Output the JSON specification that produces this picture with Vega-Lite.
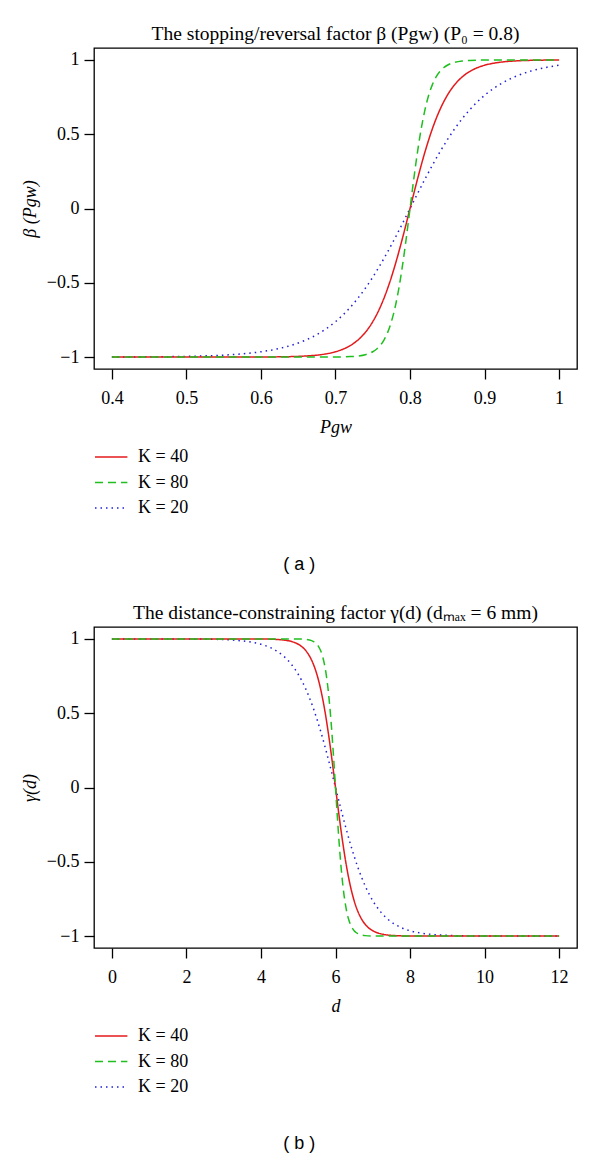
{
  "$schema": "https://vega.github.io/schema/vega-lite/v6.json",
  "background": "white",
  "padding": {"left": 20, "top": 22, "right": 5, "bottom": 2},
  "config": {
    "font": "Liberation Serif",
    "view": {"stroke": "black", "strokeWidth": 1.3},
    "axis": {"domain": false, "grid": false, "tickColor": "black", "tickSize": 10, "tickWidth": 1.3, "labelFont": "Liberation Serif", "labelFontSize": 18, "labelColor": "black", "labelPadding": 5, "titleFont": "Liberation Serif", "titleFontSize": 18, "titleFontWeight": "normal", "titleColor": "black"},
    "axisY": {"labelAngle": 0, "titlePadding": 7, "titleFontStyle": "italic"},
    "axisX": {"titleFontStyle": "italic", "titlePadding": 11, "labelPadding": 10},
    "title": {"font": "Liberation Serif", "fontSize": 19.5, "fontWeight": "normal", "color": "black", "offset": 4},
    "legend": {"orient": "bottom", "direction": "vertical", "title": null, "symbolType": "M-1,0H1.7", "symbolSize": 576, "symbolStrokeWidth": 1.5, "labelFont": "Liberation Serif", "labelFontSize": 18, "labelColor": "black", "rowPadding": 3.5, "offset": 8, "labelOffset": 18},
    "concat": {"spacing": 27}
  },
  "datasets": {
    "a": [
      {"P":0.4,"v":-0.9993,"K":"K = 20"},{"P":0.45,"v":-0.9982,"K":"K = 20"},{"P":0.5,"v":-0.9951,"K":"K = 20"},{"P":0.525,"v":-0.9918,"K":"K = 20"},{"P":0.55,"v":-0.9866,"K":"K = 20"},{"P":0.575,"v":-0.978,"K":"K = 20"},{"P":0.6,"v":-0.964,"K":"K = 20"},{"P":0.62,"v":-0.9468,"K":"K = 20"},{"P":0.64,"v":-0.9217,"K":"K = 20"},{"P":0.66,"v":-0.8854,"K":"K = 20"},{"P":0.68,"v":-0.8337,"K":"K = 20"},{"P":0.7,"v":-0.7616,"K":"K = 20"},{"P":0.72,"v":-0.664,"K":"K = 20"},{"P":0.74,"v":-0.537,"K":"K = 20"},{"P":0.76,"v":-0.3799,"K":"K = 20"},{"P":0.78,"v":-0.1974,"K":"K = 20"},{"P":0.8,"v":0,"K":"K = 20"},{"P":0.82,"v":0.1974,"K":"K = 20"},{"P":0.84,"v":0.3799,"K":"K = 20"},{"P":0.86,"v":0.537,"K":"K = 20"},{"P":0.88,"v":0.664,"K":"K = 20"},{"P":0.9,"v":0.7616,"K":"K = 20"},{"P":0.92,"v":0.8337,"K":"K = 20"},{"P":0.94,"v":0.8854,"K":"K = 20"},{"P":0.96,"v":0.9217,"K":"K = 20"},{"P":0.98,"v":0.9468,"K":"K = 20"},{"P":1.0,"v":0.964,"K":"K = 20"},
      {"P":0.4,"v":-1,"K":"K = 40"},{"P":0.5,"v":-1,"K":"K = 40"},{"P":0.55,"v":-0.9999,"K":"K = 40"},{"P":0.6,"v":-0.9993,"K":"K = 40"},{"P":0.62,"v":-0.9985,"K":"K = 40"},{"P":0.64,"v":-0.9967,"K":"K = 40"},{"P":0.66,"v":-0.9926,"K":"K = 40"},{"P":0.68,"v":-0.9837,"K":"K = 40"},{"P":0.69,"v":-0.9757,"K":"K = 40"},{"P":0.7,"v":-0.964,"K":"K = 40"},{"P":0.71,"v":-0.9468,"K":"K = 40"},{"P":0.72,"v":-0.9217,"K":"K = 40"},{"P":0.73,"v":-0.8854,"K":"K = 40"},{"P":0.74,"v":-0.8337,"K":"K = 40"},{"P":0.75,"v":-0.7616,"K":"K = 40"},{"P":0.76,"v":-0.664,"K":"K = 40"},{"P":0.77,"v":-0.537,"K":"K = 40"},{"P":0.78,"v":-0.3799,"K":"K = 40"},{"P":0.79,"v":-0.1974,"K":"K = 40"},{"P":0.8,"v":0,"K":"K = 40"},{"P":0.81,"v":0.1974,"K":"K = 40"},{"P":0.82,"v":0.3799,"K":"K = 40"},{"P":0.83,"v":0.537,"K":"K = 40"},{"P":0.84,"v":0.664,"K":"K = 40"},{"P":0.85,"v":0.7616,"K":"K = 40"},{"P":0.86,"v":0.8337,"K":"K = 40"},{"P":0.87,"v":0.8854,"K":"K = 40"},{"P":0.88,"v":0.9217,"K":"K = 40"},{"P":0.89,"v":0.9468,"K":"K = 40"},{"P":0.9,"v":0.964,"K":"K = 40"},{"P":0.91,"v":0.9757,"K":"K = 40"},{"P":0.92,"v":0.9837,"K":"K = 40"},{"P":0.94,"v":0.9926,"K":"K = 40"},{"P":0.96,"v":0.9967,"K":"K = 40"},{"P":0.98,"v":0.9985,"K":"K = 40"},{"P":1.0,"v":0.9993,"K":"K = 40"},
      {"P":0.4,"v":-1,"K":"K = 80"},{"P":0.6,"v":-1,"K":"K = 80"},{"P":0.7,"v":-0.9993,"K":"K = 80"},{"P":0.72,"v":-0.9967,"K":"K = 80"},{"P":0.73,"v":-0.9926,"K":"K = 80"},{"P":0.74,"v":-0.9837,"K":"K = 80"},{"P":0.745,"v":-0.9757,"K":"K = 80"},{"P":0.75,"v":-0.964,"K":"K = 80"},{"P":0.755,"v":-0.9468,"K":"K = 80"},{"P":0.76,"v":-0.9217,"K":"K = 80"},{"P":0.765,"v":-0.8854,"K":"K = 80"},{"P":0.77,"v":-0.8337,"K":"K = 80"},{"P":0.775,"v":-0.7616,"K":"K = 80"},{"P":0.78,"v":-0.664,"K":"K = 80"},{"P":0.785,"v":-0.537,"K":"K = 80"},{"P":0.79,"v":-0.3799,"K":"K = 80"},{"P":0.795,"v":-0.1974,"K":"K = 80"},{"P":0.8,"v":0,"K":"K = 80"},{"P":0.805,"v":0.1974,"K":"K = 80"},{"P":0.81,"v":0.3799,"K":"K = 80"},{"P":0.815,"v":0.537,"K":"K = 80"},{"P":0.82,"v":0.664,"K":"K = 80"},{"P":0.825,"v":0.7616,"K":"K = 80"},{"P":0.83,"v":0.8337,"K":"K = 80"},{"P":0.835,"v":0.8854,"K":"K = 80"},{"P":0.84,"v":0.9217,"K":"K = 80"},{"P":0.845,"v":0.9468,"K":"K = 80"},{"P":0.85,"v":0.964,"K":"K = 80"},{"P":0.855,"v":0.9757,"K":"K = 80"},{"P":0.86,"v":0.9837,"K":"K = 80"},{"P":0.87,"v":0.9926,"K":"K = 80"},{"P":0.88,"v":0.9967,"K":"K = 80"},{"P":0.9,"v":0.9993,"K":"K = 80"},{"P":1.0,"v":1,"K":"K = 80"}
    ],
    "b": [
      {"d":0,"v":1,"K":"K = 20"},{"d":1,"v":0.9999,"K":"K = 20"},{"d":2,"v":0.9993,"K":"K = 20"},{"d":2.5,"v":0.9982,"K":"K = 20"},{"d":3,"v":0.9951,"K":"K = 20"},{"d":3.4,"v":0.989,"K":"K = 20"},{"d":3.8,"v":0.9757,"K":"K = 20"},{"d":4,"v":0.964,"K":"K = 20"},{"d":4.2,"v":0.9468,"K":"K = 20"},{"d":4.4,"v":0.9217,"K":"K = 20"},{"d":4.6,"v":0.8854,"K":"K = 20"},{"d":4.8,"v":0.8337,"K":"K = 20"},{"d":5,"v":0.7616,"K":"K = 20"},{"d":5.2,"v":0.664,"K":"K = 20"},{"d":5.4,"v":0.537,"K":"K = 20"},{"d":5.6,"v":0.3799,"K":"K = 20"},{"d":5.8,"v":0.1974,"K":"K = 20"},{"d":6,"v":0,"K":"K = 20"},{"d":6.2,"v":-0.1974,"K":"K = 20"},{"d":6.4,"v":-0.3799,"K":"K = 20"},{"d":6.6,"v":-0.537,"K":"K = 20"},{"d":6.8,"v":-0.664,"K":"K = 20"},{"d":7,"v":-0.7616,"K":"K = 20"},{"d":7.2,"v":-0.8337,"K":"K = 20"},{"d":7.4,"v":-0.8854,"K":"K = 20"},{"d":7.6,"v":-0.9217,"K":"K = 20"},{"d":7.8,"v":-0.9468,"K":"K = 20"},{"d":8,"v":-0.964,"K":"K = 20"},{"d":8.2,"v":-0.9757,"K":"K = 20"},{"d":8.6,"v":-0.989,"K":"K = 20"},{"d":9,"v":-0.9951,"K":"K = 20"},{"d":9.5,"v":-0.9982,"K":"K = 20"},{"d":10,"v":-0.9993,"K":"K = 20"},{"d":11,"v":-0.9999,"K":"K = 20"},{"d":12,"v":-1,"K":"K = 20"},
      {"d":0,"v":1,"K":"K = 40"},{"d":2,"v":1,"K":"K = 40"},{"d":3,"v":1,"K":"K = 40"},{"d":4,"v":0.9993,"K":"K = 40"},{"d":4.4,"v":0.9967,"K":"K = 40"},{"d":4.6,"v":0.9926,"K":"K = 40"},{"d":4.8,"v":0.9837,"K":"K = 40"},{"d":4.9,"v":0.9757,"K":"K = 40"},{"d":5,"v":0.964,"K":"K = 40"},{"d":5.1,"v":0.9468,"K":"K = 40"},{"d":5.2,"v":0.9217,"K":"K = 40"},{"d":5.3,"v":0.8854,"K":"K = 40"},{"d":5.4,"v":0.8337,"K":"K = 40"},{"d":5.5,"v":0.7616,"K":"K = 40"},{"d":5.6,"v":0.664,"K":"K = 40"},{"d":5.7,"v":0.537,"K":"K = 40"},{"d":5.8,"v":0.3799,"K":"K = 40"},{"d":5.9,"v":0.1974,"K":"K = 40"},{"d":6,"v":0,"K":"K = 40"},{"d":6.1,"v":-0.1974,"K":"K = 40"},{"d":6.2,"v":-0.3799,"K":"K = 40"},{"d":6.3,"v":-0.537,"K":"K = 40"},{"d":6.4,"v":-0.664,"K":"K = 40"},{"d":6.5,"v":-0.7616,"K":"K = 40"},{"d":6.6,"v":-0.8337,"K":"K = 40"},{"d":6.7,"v":-0.8854,"K":"K = 40"},{"d":6.8,"v":-0.9217,"K":"K = 40"},{"d":6.9,"v":-0.9468,"K":"K = 40"},{"d":7,"v":-0.964,"K":"K = 40"},{"d":7.1,"v":-0.9757,"K":"K = 40"},{"d":7.2,"v":-0.9837,"K":"K = 40"},{"d":7.4,"v":-0.9926,"K":"K = 40"},{"d":7.6,"v":-0.9967,"K":"K = 40"},{"d":8,"v":-0.9993,"K":"K = 40"},{"d":9,"v":-1,"K":"K = 40"},{"d":12,"v":-1,"K":"K = 40"},
      {"d":0,"v":1,"K":"K = 80"},{"d":4,"v":1,"K":"K = 80"},{"d":4.5,"v":1,"K":"K = 80"},{"d":5,"v":0.9993,"K":"K = 80"},{"d":5.2,"v":0.9967,"K":"K = 80"},{"d":5.3,"v":0.9926,"K":"K = 80"},{"d":5.4,"v":0.9837,"K":"K = 80"},{"d":5.45,"v":0.9757,"K":"K = 80"},{"d":5.5,"v":0.964,"K":"K = 80"},{"d":5.55,"v":0.9468,"K":"K = 80"},{"d":5.6,"v":0.9217,"K":"K = 80"},{"d":5.65,"v":0.8854,"K":"K = 80"},{"d":5.7,"v":0.8337,"K":"K = 80"},{"d":5.75,"v":0.7616,"K":"K = 80"},{"d":5.8,"v":0.664,"K":"K = 80"},{"d":5.85,"v":0.537,"K":"K = 80"},{"d":5.9,"v":0.3799,"K":"K = 80"},{"d":5.95,"v":0.1974,"K":"K = 80"},{"d":6,"v":0,"K":"K = 80"},{"d":6.05,"v":-0.1974,"K":"K = 80"},{"d":6.1,"v":-0.3799,"K":"K = 80"},{"d":6.15,"v":-0.537,"K":"K = 80"},{"d":6.2,"v":-0.664,"K":"K = 80"},{"d":6.25,"v":-0.7616,"K":"K = 80"},{"d":6.3,"v":-0.8337,"K":"K = 80"},{"d":6.35,"v":-0.8854,"K":"K = 80"},{"d":6.4,"v":-0.9217,"K":"K = 80"},{"d":6.45,"v":-0.9468,"K":"K = 80"},{"d":6.5,"v":-0.964,"K":"K = 80"},{"d":6.55,"v":-0.9757,"K":"K = 80"},{"d":6.6,"v":-0.9837,"K":"K = 80"},{"d":6.7,"v":-0.9926,"K":"K = 80"},{"d":6.8,"v":-0.9967,"K":"K = 80"},{"d":7,"v":-0.9993,"K":"K = 80"},{"d":7.5,"v":-1,"K":"K = 80"},{"d":12,"v":-1,"K":"K = 80"}
    ]
  },
  "resolve": {"scale": {"color": "independent", "strokeDash": "independent", "x": "independent", "y": "independent"}},
  "vconcat": [
    {
      "title": {"text": "( a )", "orient": "bottom", "anchor": "middle", "font": "Liberation Sans", "fontSize": 18, "offset": 38},
      "resolve": {"scale": {"color": "independent", "strokeDash": "independent"}},
      "vconcat": [
        {
          "title": {"text": "The stopping/reversal factor β (Pgw) (P₀ = 0.8)", "anchor": "middle"},
          "width": 483,
          "height": 321,
          "data": {"name": "a"},
          "mark": {"type": "line", "interpolate": "monotone", "strokeWidth": 1.5},
          "encoding": {
            "x": {"field": "P", "type": "quantitative", "scale": {"domain": [0.376, 1.024], "nice": false, "zero": false}, "axis": {"values": [0.4, 0.5, 0.6, 0.7, 0.8, 0.9, 1], "format": "~g", "title": "Pgw"}},
            "y": {"field": "v", "type": "quantitative", "scale": {"domain": [-1.08, 1.08], "nice": false}, "axis": {"values": [-1, -0.5, 0, 0.5, 1], "format": "~g", "title": "β (Pgw)"}},
            "color": {"field": "K", "type": "nominal", "scale": {"domain": ["K = 40", "K = 80", "K = 20"], "range": ["#e31a1c", "#1fbf1f", "#1f1fd6"]}},
            "strokeDash": {"field": "K", "type": "nominal", "scale": {"domain": ["K = 40", "K = 80", "K = 20"], "range": [[1, 0], [8, 5], [1.5, 4]]}}
          }
        }
      ]
    },
    {
      "title": {"text": "( b )", "orient": "bottom", "anchor": "middle", "font": "Liberation Sans", "fontSize": 18, "offset": 38},
      "resolve": {"scale": {"color": "independent", "strokeDash": "independent"}},
      "vconcat": [
        {
          "title": {"text": "The distance-constraining factor γ(d) (dₘₐₓ = 6 mm)", "anchor": "middle"},
          "width": 483,
          "height": 321,
          "data": {"name": "b"},
          "mark": {"type": "line", "interpolate": "monotone", "strokeWidth": 1.5},
          "encoding": {
            "x": {"field": "d", "type": "quantitative", "scale": {"domain": [-0.48, 12.48], "nice": false, "zero": false}, "axis": {"values": [0, 2, 4, 6, 8, 10, 12], "format": "~g", "title": "d"}},
            "y": {"field": "v", "type": "quantitative", "scale": {"domain": [-1.08, 1.08], "nice": false}, "axis": {"values": [-1, -0.5, 0, 0.5, 1], "format": "~g", "title": "γ(d)"}},
            "color": {"field": "K", "type": "nominal", "scale": {"domain": ["K = 40", "K = 80", "K = 20"], "range": ["#e31a1c", "#1fbf1f", "#1f1fd6"]}},
            "strokeDash": {"field": "K", "type": "nominal", "scale": {"domain": ["K = 40", "K = 80", "K = 20"], "range": [[1, 0], [8, 5], [1.5, 4]]}}
          }
        }
      ]
    }
  ]
}
